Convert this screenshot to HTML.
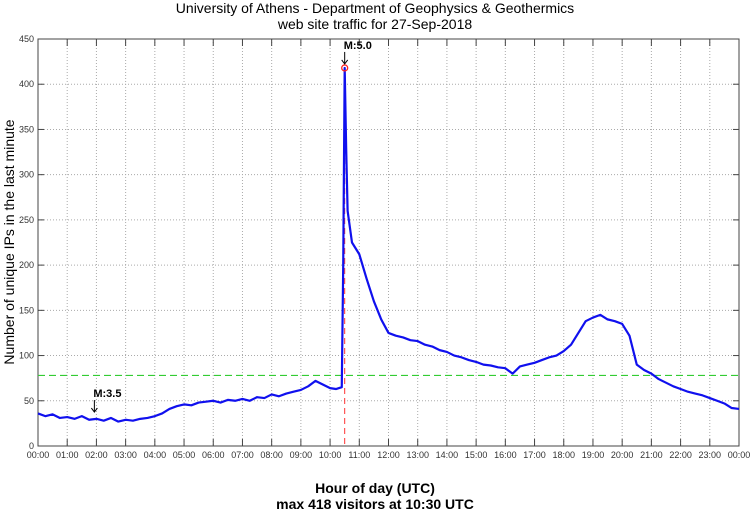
<!DOCTYPE html>
<html><head><meta charset="utf-8"><style>
body{margin:0;background:#fff;}
svg{display:block;font-family:"Liberation Sans",sans-serif;}
</style></head><body>
<svg id="chart" width="750" height="511">
<text x="375" y="13" text-anchor="middle" font-size="14">University of Athens - Department of Geophysics &amp; Geothermics</text>
<text x="375" y="29" text-anchor="middle" font-size="14">web site traffic for 27-Sep-2018</text>
<text transform="translate(14,242) rotate(-90)" text-anchor="middle" font-size="14">Number of unique IPs in the last minute</text>
<text x="375" y="493" text-anchor="middle" font-size="14" font-weight="bold">Hour of day (UTC)</text>
<text x="375" y="509" text-anchor="middle" font-size="14" font-weight="bold">max 418 visitors at 10:30 UTC</text>
<g id="grid"></g><g id="axes"></g><g id="series"></g><g id="ann"></g>
</svg>
<script>
const yTicks=[0,50,100,150,200,250,300,350,400,450];
const xTickLabels=["00:00","01:00","02:00","03:00","04:00","05:00","06:00","07:00","08:00","09:00","10:00","11:00","12:00","13:00","14:00","15:00","16:00","17:00","18:00","19:00","20:00","21:00","22:00","23:00","00:00"];
const times=[0,0.25,0.5,0.75,1,1.25,1.5,1.75,2,2.25,2.5,2.75,3,3.25,3.5,3.75,4,4.25,4.5,4.75,5,5.25,5.5,5.75,6,6.25,6.5,6.75,7,7.25,7.5,7.75,8,8.25,8.5,8.75,9,9.25,9.5,9.75,10,10.2,10.4,10.45,10.5,10.55,10.6,10.75,11,11.25,11.5,11.75,12,12.25,12.5,12.75,13,13.25,13.5,13.75,14,14.25,14.5,14.75,15,15.25,15.5,15.75,16,16.25,16.5,16.75,17,17.25,17.5,17.75,18,18.25,18.5,18.75,19,19.25,19.5,19.75,20,20.25,20.5,20.75,21,21.25,21.5,21.75,22,22.25,22.5,22.75,23,23.25,23.5,23.75,24];
const visitors=[36,33,35,31,32,30,33,29,30,28,31,27,29,28,30,31,33,36,41,44,46,45,48,49,50,48,51,50,52,50,54,53,57,55,58,60,62,66,72,68,64,63,65,200,418,330,260,225,212,185,160,140,125,122,120,117,116,112,110,106,104,100,98,95,93,90,89,87,86,80,88,90,92,95,98,100,105,112,125,138,142,145,140,138,135,122,90,84,80,74,70,66,63,60,58,56,53,50,47,42,41];
const peakTime=10.5, peakValue=418, avgValue=78;
const quakes=[{t:1.93,label:"M:3.5",v:32},{t:10.5,label:"M:5.0",v:418}];
const L=38,R=739,T=39,B=446;
const x=h=>L+(R-L)*h/24, y=v=>B-(B-T)*v/450;
const NS="http://www.w3.org/2000/svg";
function mk(tag,attrs,parent){const e=document.createElementNS(NS,tag);for(const k in attrs)e.setAttribute(k,attrs[k]);document.getElementById(parent).appendChild(e);return e;}
yTicks.forEach(v=>{
 if(v>0&&v<450){const g=mk('line',{x1:L,x2:R,y1:y(v),y2:y(v),stroke:'#aaa','stroke-dasharray':'1,2'},'grid');
 
 }
 const t=mk('text',{x:L-4,y:y(v)+3,'text-anchor':'end','font-size':9,fill:'#333'},'axes');t.textContent=v;
 
 
 mk('line',{x1:L,x2:L+6,y1:y(v),y2:y(v),stroke:'#444'},'axes');
 mk('line',{x1:R,x2:R-6,y1:y(v),y2:y(v),stroke:'#444'},'axes');
});
xTickLabels.forEach((lab,i)=>{
 if(i>0&&i<24){const g=mk('line',{x1:x(i),x2:x(i),y1:T,y2:B,stroke:'#aaa','stroke-dasharray':'1,2'},'grid');
 
 }
 mk('line',{x1:x(i),x2:x(i),y1:B,y2:B-7,stroke:'#444'},'axes');
 mk('line',{x1:x(i),x2:x(i),y1:T,y2:T+7,stroke:'#444'},'axes');
 const t=mk('text',{x:x(i),y:B+12,'text-anchor':'middle','font-size':9,fill:'#333'},'axes');t.textContent=lab;
 
 
});
const fr=mk('rect',{x:L,y:T,width:R-L,height:B-T,fill:'none',stroke:'#444'},'axes');


const avg=mk('line',{x1:L,x2:R,y1:y(avgValue),y2:y(avgValue),stroke:'#33cc33','stroke-width':1.2,'stroke-dasharray':'7,4'},'series');


const pv=mk('line',{x1:x(peakTime),x2:x(peakTime),y1:y(peakValue),y2:B,stroke:'#ff3333','stroke-dasharray':'6,4'},'series');


const pl=mk('polyline',{points:times.map((t,i)=>x(t)+','+y(visitors[i])).join(' '),fill:'none',stroke:'#1010ee','stroke-width':2.2,'stroke-linejoin':'round'},'series');


const pc=mk('circle',{cx:x(peakTime),cy:y(peakValue),r:3,fill:'none',stroke:'#ff2222','stroke-width':1.3},'series');


quakes.forEach(q=>{
 const px=x(q.t), py=y(q.v)-(q.v>300?4:5);
 mk('line',{x1:px,x2:px,y1:py-12,y2:py,stroke:'#000'},'ann');
 mk('path',{d:`M${px-3},${py-4} L${px},${py} L${px+3},${py-4}`,fill:'none',stroke:'#000'},'ann');
 const t=mk('text',{x:px-1,y:py-15,'font-size':11,'font-weight':'bold'},'ann');t.textContent=q.label;
 
 
});
</script>
</body></html>
